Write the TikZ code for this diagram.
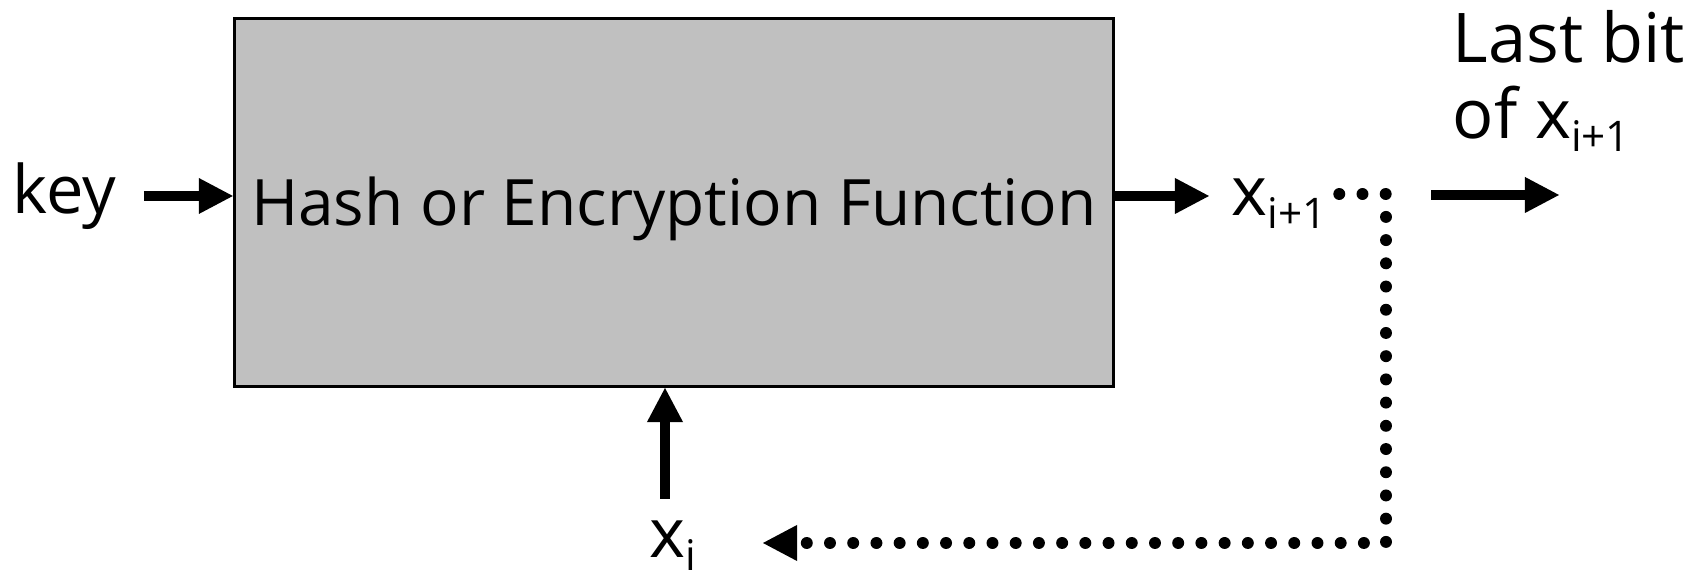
\documentclass[tikz,border=0pt]{standalone}
\usepackage{fontspec}
\setmainfont{Open Sans}
\usetikzlibrary{arrows.meta,positioning}
\definecolor{boxgray}{RGB}{192,192,192}
\newcommand{\idx}[1]{\raisebox{-3.5pt}{\fontsize{12pt}{12pt}\selectfont #1}}
\tikzset{
  fat/.style={line width=3.1pt,-{Triangle[length=0.34cm,width=0.36cm,line width=0pt]}},
  dots/.style={line width=3.4pt,line cap=round,dash pattern=on 0pt off 0.232cm,
    -{Triangle[length=0.34cm,width=0.36cm,line width=0pt]}},
  lbl/.style={inner sep=0pt,anchor=base west,font=\fontsize{19.5pt}{24pt}\selectfont},
}
\begin{document}
\begin{tikzpicture}[x=0.01cm,y=-0.01cm]
\useasboundingbox (0,0) rectangle (1702,577);

%Function block
\node[draw,line width=0.8pt,fill=boxgray,minimum width=8.79cm,minimum height=3.68cm,inner sep=0pt] (hash) at (674,202.5) {};
\node[inner sep=0pt,anchor=base,font=\fontsize{18.2pt}{22pt}\selectfont] (fname) at (674,226) {Hash or Encryption Function};

%Labels
\node[lbl,font=\fontsize{19pt}{22pt}\selectfont] (key) at (12,214) {key};
\node[lbl] (xnext) at (1231,216) {x\idx{i+1}};
\node[lbl] (last) at (1452,63) {Last bit};
\node[lbl] (ofx) at (1452,139) {of x\idx{i+1}};
\node[lbl] (xi) at (649,558) {x\idx{i}};

%Marking coordinates
\coordinate (lev) at (0,196);
\coordinate (turn) at (1386,194);
\coordinate (back) at (1386,543);
\coordinate (stop) at (763,543);
\coordinate (up) at (665,499);
\coordinate (outA) at (1431,195);
\coordinate (outB) at (1559,195);

%Arrows
\draw[fat] ([xshift=0.27cm]key.east |- lev) -- (hash.west |- lev);
\draw[fat] (hash.east |- lev) -- ([xshift=-0.22cm]xnext.west |- lev);
\draw[fat] (up) -- (up |- hash.south);
\draw[fat] (outA) -- (outB);
\draw[dots] ([xshift=0.12cm]xnext.east |- turn) -- (turn) -- (back) -- (stop);
\end{tikzpicture}
\end{document}
